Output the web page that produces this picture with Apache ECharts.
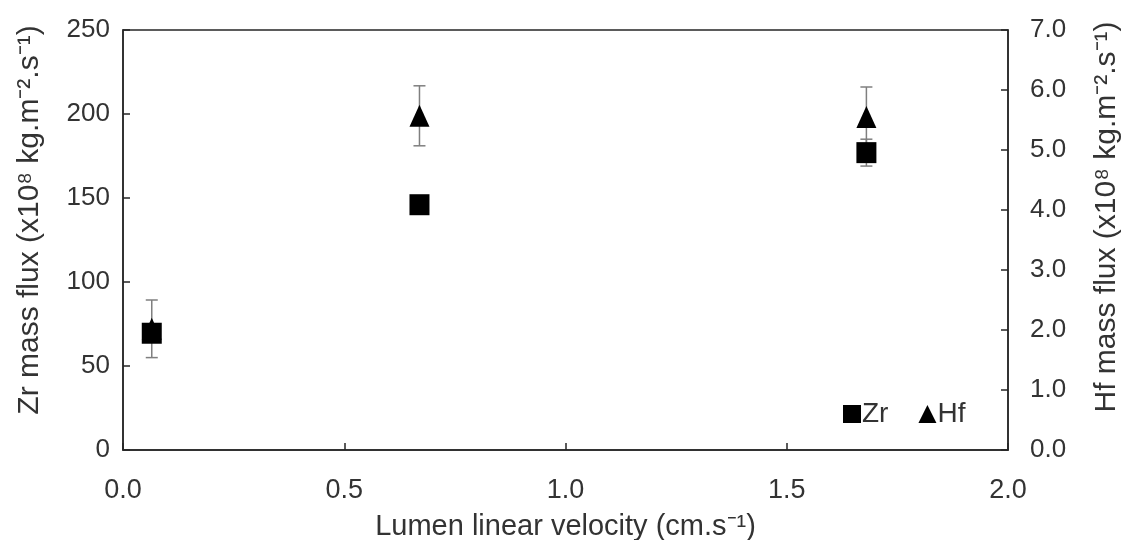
<!DOCTYPE html>
<html>
<head>
<meta charset="utf-8">
<script src="https://cdn.jsdelivr.net/npm/echarts@6/dist/echarts.min.js"></script>
<style>html,body{margin:0;padding:0;background:#fff;}#c{width:1126px;height:540px;}</style>
</head>
<body>
<div id="c"></div>
<script>
const velocity = [0.065, 0.67, 1.68];
const zrFlux = [69.5, 146, 177];
const zrErr = [4, 5, 8];
const hfFlux = [2.02, 5.57, 5.55];
const hfErr = [0.48, 0.5, 0.5];
const xTicks = ['0.0', '0.5', '1.0', '1.5', '2.0'];
const zrTitle = 'Zr mass flux (x10⁸ kg.m⁻².s⁻¹)';
const hfTitle = 'Hf mass flux (x10⁸ kg.m⁻².s⁻¹)';
const xTitle = 'Lumen linear velocity (cm.s⁻¹)';

const textColor = '#333333';
const font = 'Liberation Sans, Arial, sans-serif';

function errData(vals, errs) {
  return velocity.map((v, i) => [v, vals[i] - errs[i], vals[i] + errs[i]]);
}
function errRender(params, api) {
  const x = api.value(0);
  const lo = api.coord([x, api.value(1)]);
  const hi = api.coord([x, api.value(2)]);
  const w = 6;
  const st = { stroke: '#7f7f7f', lineWidth: 1.5 };
  return {
    type: 'group',
    children: [
      { type: 'line', shape: { x1: lo[0], y1: lo[1], x2: hi[0], y2: hi[1] }, style: st },
      { type: 'line', shape: { x1: lo[0] - w, y1: lo[1], x2: lo[0] + w, y2: lo[1] }, style: st },
      { type: 'line', shape: { x1: hi[0] - w, y1: hi[1], x2: hi[0] + w, y2: hi[1] }, style: st }
    ]
  };
}

const chart = echarts.init(document.getElementById('c'));
chart.setOption({
  animation: false,
  backgroundColor: '#fff',
  textStyle: { fontFamily: font },
  grid: { left: 123, right: 118, top: 30, bottom: 90, outerBoundsMode: 'none', containLabel: false,
          show: true, borderColor: '#262626', borderWidth: 1.5 },
  graphic: [
    { type: 'text', x: 30, y: 220, rotation: Math.PI / 2,
      style: { text: zrTitle, fontSize: 30, fontFamily: font, fill: textColor, textAlign: 'center', textVerticalAlign: 'middle' } },
    { type: 'text', x: 1107, y: 217, rotation: Math.PI / 2,
      style: { text: hfTitle, fontSize: 30, fontFamily: font, fill: textColor, textAlign: 'center', textVerticalAlign: 'middle' } }
  ],
  legend: {
    data: [{ name: 'Zr', icon: 'rect' }, { name: 'Hf', icon: 'triangle' }],
    left: 838, top: 395, itemWidth: 18, itemHeight: 18, itemGap: 30,
    textStyle: { fontSize: 28, color: textColor, fontFamily: font, padding: [0, 0, 0, -4] }
  },
  xAxis: {
    type: 'value', min: 0, max: 2, interval: 0.5,
    name: xTitle, nameLocation: 'middle', nameGap: 62,
    nameTextStyle: { fontSize: 29, color: textColor, fontFamily: font },
    axisLine: { show: true, lineStyle: { color: '#262626', width: 1.5 } },
    axisTick: { show: true, inside: true, length: 7, lineStyle: { color: '#262626', width: 1.5 } },
    axisLabel: { fontSize: 27, color: textColor, margin: 27, formatter: v => xTicks[Math.round(v / 0.5)] },
    splitLine: { show: false }
  },
  yAxis: [
    {
      type: 'value', min: 0, max: 250, interval: 50, position: 'left',
      axisLine: { show: true, lineStyle: { color: '#262626', width: 1.5 } },
      axisTick: { show: true, inside: true, length: 7, lineStyle: { color: '#262626', width: 1.5 } },
      axisLabel: { fontSize: 26, color: textColor, margin: 13 },
      splitLine: { show: false }
    },
    {
      type: 'value', min: 0, max: 7, interval: 1, position: 'right',
      axisLine: { show: true, lineStyle: { color: '#262626', width: 1.5 } },
      axisTick: { show: true, inside: true, length: 7, lineStyle: { color: '#262626', width: 1.5 } },
      axisLabel: { fontSize: 26, color: textColor, margin: 22, formatter: v => v.toFixed(1) },
      splitLine: { show: false }
    }
  ],
  series: [
    { type: 'custom', name: 'HfErr', yAxisIndex: 1, renderItem: errRender, data: errData(hfFlux, hfErr), z: 1 },
    { type: 'scatter', name: 'Hf', yAxisIndex: 1, symbol: 'triangle', symbolSize: [20, 22],
      itemStyle: { color: '#000', opacity: 1 }, data: velocity.map((v, i) => [v, hfFlux[i]]), z: 2 },
    { type: 'custom', name: 'ZrErr', yAxisIndex: 0, renderItem: errRender, data: errData(zrFlux, zrErr), z: 3 },
    { type: 'scatter', name: 'Zr', yAxisIndex: 0, symbol: 'rect', symbolSize: [20, 21],
      itemStyle: { color: '#000', opacity: 1 }, data: velocity.map((v, i) => [v, zrFlux[i]]), z: 4 }
  ]
});
</script>
</body>
</html>
